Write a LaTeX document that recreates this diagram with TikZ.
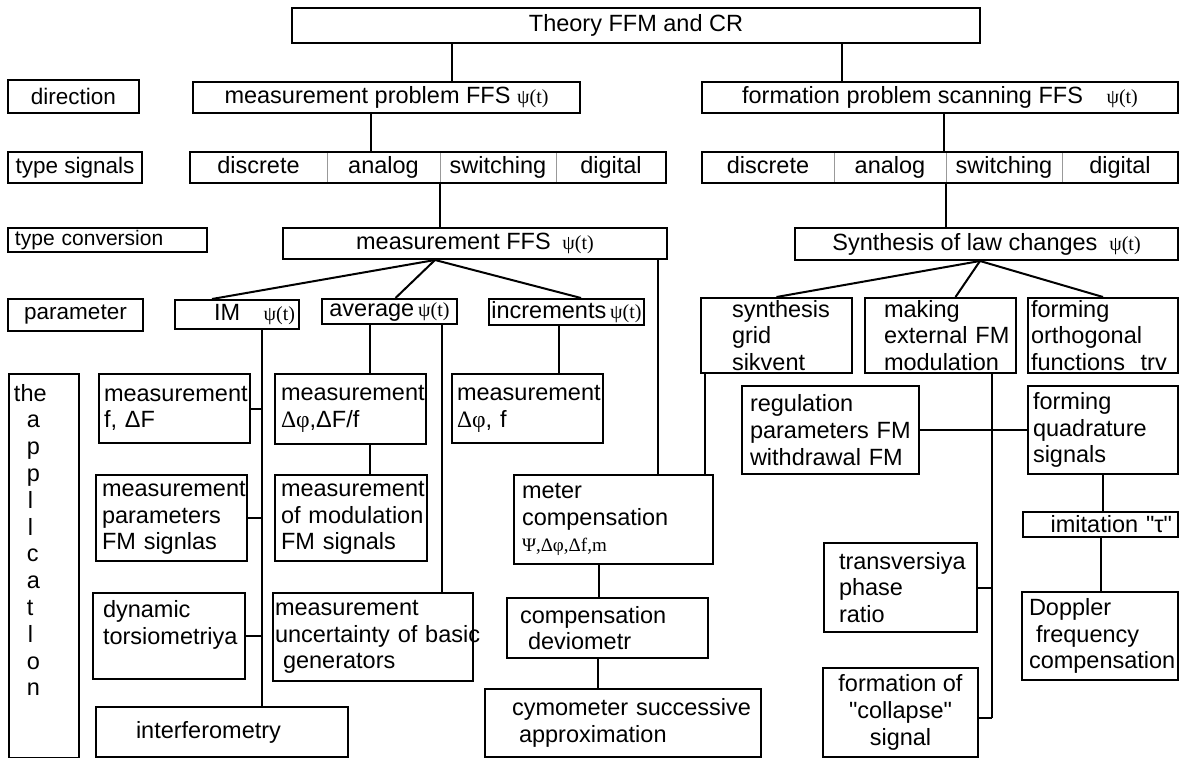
\documentclass[tikz,border=0pt]{standalone}
\usepackage{fontspec}
\setmainfont{Liberation Sans}
\newfontfamily\grkfont{Liberation Serif}
\newcommand{\mainfs}{\fontsize{23.5}{26.8}\selectfont}
\newcommand{\labfs}{\fontsize{22.5}{26}\selectfont}
\newcommand{\tcfs}{\fontsize{21}{24}\selectfont}
\newcommand{\psit}{{\grkfont\fontsize{20}{22}\selectfont ψ(t)}}
\begin{document}
\begin{tikzpicture}[x=1pt, y=-1pt,
    box/.style={draw, line width=2pt, inner xsep=2pt, inner ysep=0pt, font=\mainfs},
    lbox/.style={box, align=left},
    lab/.style={box, font=\labfs},
    cell/.style={draw=gray!80, line width=0.8pt, inner sep=0pt, minimum height=31pt, text height=17pt, text depth=5pt, font=\mainfs},
    frame/.style={line width=2pt},
    link/.style={line width=2pt}]
    \useasboundingbox (0,0) rectangle (1179,758);

    \node[box, minimum width=688pt, minimum height=35pt] (theory) at (636,25.5) {Theory FFM and CR};

    \node[lab, minimum width=131pt, minimum height=33pt] (dir) at (73.5,96.5) {direction};
    \node[lab, minimum width=134pt, minimum height=31pt] (tsig) at (75,167.5) {type signals};
    \node[lab, align=left, text width=185pt, inner xsep=7pt, minimum height=24pt, font=\tcfs] (tconv) at (107.5,240) {type conversion};
    \node[lab, minimum width=135pt, minimum height=32pt] (param) at (75.5,315) {parameter};

    \node[box, minimum width=387pt, minimum height=31pt] (mprob) at (386.5,97.5) {measurement problem FFS \psit};
    \node[box, minimum width=476pt, minimum height=31pt] (fprob) at (940,97.5) {formation problem scanning FFS\quad\psit};

    \node[cell, minimum width=137pt] (sdL) at (258.5,167.5) {discrete};
    \node[cell, minimum width=113pt] (saL) at (383.5,167.5) {analog};
    \node[cell, minimum width=116pt] (ssL) at (498,167.5) {switching};
    \node[cell, minimum width=110pt] (sgL) at (611,167.5) {digital};
    \draw[frame] (sdL.north west) rectangle (sgL.south east);

    \node[cell, minimum width=132pt] (sdR) at (768,167.5) {discrete};
    \node[cell, minimum width=112pt] (saR) at (890,167.5) {analog};
    \node[cell, minimum width=116pt] (ssR) at (1004,167.5) {switching};
    \node[cell, minimum width=116pt] (sgR) at (1120,167.5) {digital};
    \draw[frame] (sdR.north west) rectangle (sgR.south east);

    \node[box, minimum width=384pt, minimum height=31pt] (mffs) at (475,243.5) {measurement FFS\enspace\psit};
    \node[box, minimum width=383pt, minimum height=32pt] (synth) at (986.5,244) {Synthesis of law changes\enspace\psit};

    \node[box, align=right, text width=116pt, inner xsep=4pt, minimum height=29pt] (im) at (237,314.5) {IM\quad\psit};
    \node[box, minimum width=135pt, minimum height=25pt] (avg) at (389.5,311.5) {average\,\psit};
    \node[box, minimum width=151pt, minimum height=26pt] (incr) at (566.5,312) {increments\,\psit};

    \node[lbox, text width=89pt, inner xsep=31pt, minimum height=75pt] (sgrid) at (776.5,335.5) {synthesis\\grid\\sikvent};
    \node[lbox, text width=113pt, inner xsep=19pt, minimum height=75pt] (making) at (940.5,335.5) {making\\\mbox{external FM}\\modulation};
    \node[lbox, text width=144pt, inner xsep=3pt, minimum height=75pt] (forth) at (1103,335.5) {forming\\orthogonal\\functions\ \ trv};

    \node[lbox, text width=161pt, inner xsep=8pt, minimum height=88pt] (reg) at (830.5,430) {regulation\\\mbox{parameters FM}\\\mbox{withdrawal FM}};
    \node[lbox, text width=140pt, inner xsep=5pt, minimum height=88pt] (fquad) at (1103,430) {forming\\quadrature\\signals};

    \node[box, anchor=north west, inner sep=0pt] (appl) at (8,373) {\parbox[t][384pt][t]{70pt}{\vspace*{10pt}\hspace*{5pt}the\\\hspace*{18pt}a\\\hspace*{18pt}p\\\hspace*{18pt}p\\\hspace*{19pt}l\\\hspace*{19pt}l\\\hspace*{18pt}c\\\hspace*{18pt}a\\\hspace*{18pt}t\\\hspace*{19pt}l\\\hspace*{18pt}o\\\hspace*{18pt}n}};

    \node[lbox, text width=141pt, inner xsep=5pt, minimum height=69pt] (mf) at (174.5,408.5) {measurement\\f, ΔF};
    \node[lbox, text width=139pt, inner xsep=6pt, minimum height=70pt] (ma) at (350.5,409) {measurement\\{\grkfont Δφ},ΔF/f};
    \node[lbox, text width=141pt, inner xsep=5pt, minimum height=69pt] (mi) at (527.5,408.5) {measurement\\{\grkfont Δφ}, f};

    \node[lbox, text width=139pt, inner xsep=6pt, minimum height=86pt] (mp) at (171.5,518) {measurement\\parameters\\FM signlas};
    \node[lbox, text width=140pt, inner xsep=6pt, minimum height=86pt] (mm) at (351,518) {measurement\\\mbox{of modulation}\\FM signals};
    \node[lbox, text width=132pt, inner xsep=10pt, minimum height=86pt] (dyn) at (169,636) {dynamic\\torsiometriya\\\mbox{}};
    \node[lbox, text width=196pt, inner xsep=2pt, minimum height=88pt] (mu) at (373,637) {measurement\\\mbox{uncertainty of basic}\\\hspace*{8pt}generators};
    \node[lbox, text width=172pt, inner xsep=40pt, minimum height=50pt] (interf) at (222,732) {interferometry};

    \node[lbox, text width=183pt, inner xsep=8pt, minimum height=89pt] (mc) at (613.5,519.5) {meter\\compensation\\{\grkfont\fontsize{19}{22}\selectfont Ψ,Δφ,Δf,m}};
    \node[lbox, text width=175pt, inner xsep=13pt, minimum height=60pt] (cd) at (607.5,628) {compensation\\\hspace*{8pt}deviometr};
    \node[lbox, text width=222pt, inner xsep=27pt, minimum height=68pt] (cy) at (623,723) {\mbox{cymometer successive}\\\hspace*{7pt}approximation};

    \node[lbox, text width=123pt, inner xsep=15pt, minimum height=89pt] (tv) at (900.5,587.5) {transversiya\\phase\\ratio};
    \node[box, align=center, minimum width=155pt, minimum height=89pt] (coll) at (900.5,712.5) {formation of\\\textquotedbl collapse\textquotedbl\\signal};
    \node[box, align=right, text width=143pt, inner xsep=6pt, minimum height=25pt] (imit) at (1100.5,524.5) {imitation \textquotedbl τ\textquotedbl};
    \node[lbox, text width=142pt, inner xsep=7pt, minimum height=88pt] (dop) at (1100,636) {Doppler\\\hspace*{7pt}frequency\\compensation};

    \coordinate (th1) at ([xshift=161pt]theory.south west);
    \coordinate (th2) at ([xshift=-139pt]theory.south east);
    \coordinate (mp1) at ([xshift=179pt]mprob.south west);
    \coordinate (fp1) at ([xshift=4pt]fprob.south);
    \coordinate (fan1) at ([xshift=-40pt]mffs.south);
    \coordinate (fan2) at ([xshift=-6.5pt]synth.south);
    \coordinate (mc1) at ([xshift=-10pt]mffs.south east);
    \coordinate (mc2) at ([xshift=5pt]sgrid.south west);
    \coordinate (imbus) at ([xshift=-38pt]im.south east);
    \coordinate (av1) at ([xshift=-20pt]avg.south);
    \coordinate (av2) at ([xshift=-16pt]avg.south east);
    \coordinate (in1) at ([xshift=-8pt]incr.south);
    \coordinate (cd1) at ([xshift=-15pt]mc.south);
    \coordinate (cy1) at ([xshift=-10pt]cd.south);
    \coordinate (mkbus) at ([xshift=-25pt]making.south east);
    \coordinate (cl1) at ([yshift=-5.5pt]coll.east);

    \draw[link] (th1) -- (th1 |- mprob.north);
    \draw[link] (th2) -- (th2 |- fprob.north);
    \draw[link] (mp1) -- (mp1 |- saL.north);
    \draw[link] (fp1) -- (fp1 |- saR.north);
    \draw[link] (ssL.south west) -- (ssL.south west |- mffs.north);
    \draw[link] (ssR.south west) -- (ssR.south west |- synth.north);

    \draw[link] (fan1) -- ([xshift=38pt]im.north west);
    \draw[link] (fan1) -- ([xshift=6pt]avg.north);
    \draw[link] (fan1) -- ([xshift=14.5pt]incr.north);
    \draw[link] (fan2) -- (sgrid.north);
    \draw[link] (fan2) -- ([xshift=15pt]making.north);
    \draw[link] (fan2) -- (forth.north);

    \draw[link] (mc1) -- (mc1 |- mc.north);
    \draw[link] (mc2) -- (mc2 |- mc.north);

    \draw[link] (imbus) -- (imbus |- interf.north);
    \draw[link] (mf.east) -- (mf.east -| imbus);
    \draw[link] (mp.east) -- (mp.east -| imbus);
    \draw[link] (dyn.east) -- (dyn.east -| imbus);

    \draw[link] (av1) -- (av1 |- ma.north);
    \draw[link] (ma.south -| av1) -- (av1 |- mm.north);
    \draw[link] (av2) -- (av2 |- mu.north);
    \draw[link] (in1) -- (in1 |- mi.north);

    \draw[link] (cd1) -- (cd1 |- cd.north);
    \draw[link] (cy1) -- (cy1 |- cy.north);

    \draw[link] (mkbus) -- (mkbus |- cl1);
    \draw[link] (tv.east) -- (tv.east -| mkbus);
    \draw[link] (cl1) -- (cl1 -| mkbus);
    \draw[link] (reg.east) -- (fquad.west);
    \draw[link] (fquad.south) -- (fquad.south |- imit.north);
    \draw[link] (imit.south) -- (imit.south |- dop.north);
\end{tikzpicture}
\end{document}
